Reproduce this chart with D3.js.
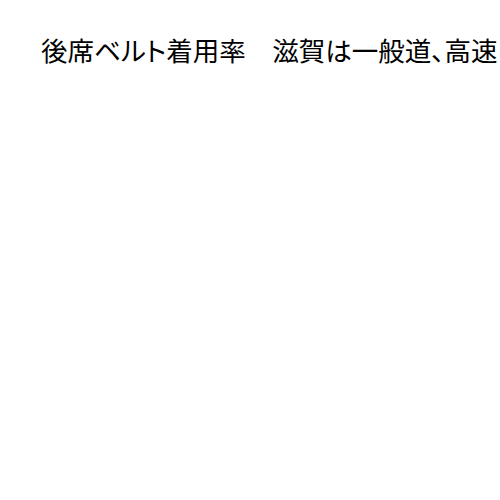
<!DOCTYPE html>
<html>
<head>
<meta charset="utf-8">
<script src="https://cdn.jsdelivr.net/npm/d3@7"></script>
<style>
  html, body { margin: 0; padding: 0; background: #fff; overflow: hidden; }
</style>
</head>
<body>
<div id="chart"></div>
<script>
// title parts as shown (the rest runs off the right edge)
const titleParts = ["後席ベルト着用率", "滋賀は一般道、高速"];

const width = 500;
const height = 500;

const svg = d3.select("#chart")
  .append("svg")
  .attr("width", width)
  .attr("height", height);

svg.append("rect")
  .attr("width", width)
  .attr("height", height)
  .attr("fill", "#fff");

// proportional kana and punctuation, like the reference font
svg.append("text")
  .attr("x", 41)
  .attr("y", 61)
  .attr("font-family", "'Noto Sans CJK JP', sans-serif")
  .attr("font-size", "26.5px")
  .attr("fill", "#000")
  .style("font-feature-settings", "'palt' 1")
  .text(titleParts.join("\u3000"));
</script>
</body>
</html>
